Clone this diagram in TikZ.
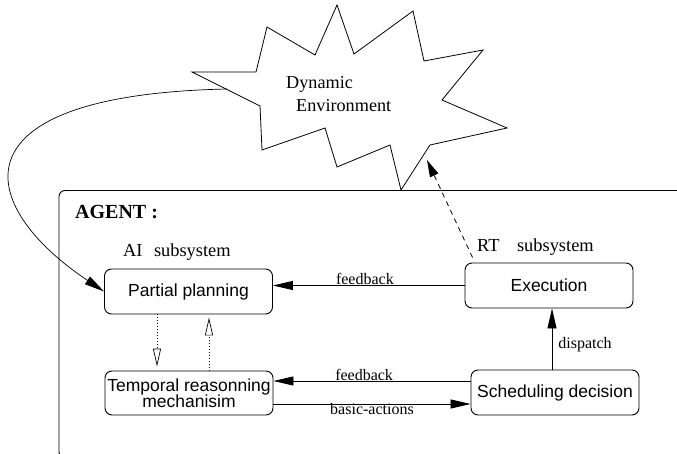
\documentclass[tikz,border=0pt]{standalone}
\usepackage{fontspec}
\setmainfont{Liberation Serif}
\newfontfamily\boitefont{Liberation Sans}
\usetikzlibrary{arrows.meta}
\setlength{\lineskiplimit}{-8pt}

\begin{document}
\begin{tikzpicture}[
    x=1pt, y=-1pt,
    bloc/.style={draw, rounded corners=7pt, line width=0.9pt, minimum width=168pt, minimum height=45pt,
                 inner sep=0pt, align=center,
                 font=\boitefont\fontsize{17.5}{16}\selectfont},
    titre/.style={anchor=base west, inner sep=0pt, font=\fontsize{18.4}{20}\selectfont},
    etiquette/.style={inner sep=0pt, font=\fontsize{16}{18}\selectfont},
    fleche/.style={-{Triangle[length=20pt, width=9pt]}, line width=0.8pt},
    tirets/.style={-{Triangle[length=17pt, width=9pt]}, line width=0.8pt, dash pattern=on 5pt off 4.5pt},
    pointilles/.style={-{Triangle[open, length=18pt, width=8pt]}, line width=0.7pt, dash pattern=on 0.8pt off 2.2pt},
    cadre/.style={line width=0.9pt, rounded corners=6pt}
]
    \useasboundingbox (0,0) rectangle (677,454);
    \clip (0,0) rectangle (677,454);

    % environment
    \draw[line width=0.8pt] (192,72) -- (256,72) -- (267,27) -- (315,55) -- (337,5) -- (354,54)
        -- (413,11) -- (424,61) -- (483,50) -- (442,100) -- (507,128) -- (430,145) -- (401,190)
        -- (390,145) -- (337,167) -- (325,128) -- (262,150) -- (260,106) -- cycle;
    \node[titre, font=\fontsize{18.2}{20}\selectfont] (envhaut) at (286,89) {Dynamic};
    \node[titre, font=\fontsize{18.2}{20}\selectfont] (envbas) at (296,112) {Environment};
    \coordinate (envout) at (227,89);
    \coordinate (envin) at (427,160);

    % agent
    \draw[cadre] (690,190.5) -- (59,190.5) -- (59,458) -- (90,458);
    \node[titre, font=\bfseries\fontsize{20}{22}\selectfont] (agent) at (75,219) {AGENT :};
    \node[titre] (ai) at (123,257) {AI\hspace{0.62em}subsystem};
    \node[titre] (rt) at (477,252) {RT\hspace{0.95em}subsystem};

    \node[bloc] (plan) at (188.5,291.5) {Partial planning};
    \node[bloc, minimum height=44pt] (temp) at (189,393) {Temporal reasonning\\mechanisim};
    \node[bloc] (exe) at (549,285.5) {Execution};
    \node[bloc] (sched) at (555,392.5) {Scheduling decision};

    \coordinate (fb) at ([yshift=11.5pt]sched.west);
    \coordinate (ba) at ([yshift=-11pt]temp.east);
    \coordinate (d1) at ([xshift=-31.5pt]plan.south);
    \coordinate (d2) at ([xshift=20pt]temp.north);

    \draw[fleche] (exe.west) -- (exe.west -| plan.east)
        node[etiquette, pos=0.52, anchor=base, yshift=1pt] {feedback};
    \draw[fleche] (fb) -- (fb -| temp.east)
        node[etiquette, pos=0.54, anchor=base, yshift=1pt] {feedback};
    \draw[fleche] (ba) -- (ba -| sched.west)
        node[etiquette, midway, anchor=base, yshift=-10pt] {basic-actions};
    \draw[fleche] ([xshift=-3pt]sched.north) -- ([xshift=3pt]exe.south)
        node[etiquette, pos=0.41, anchor=west, xshift=6pt] {dispatch};

    \draw[pointilles, shorten >=4pt] (d1) -- (d1 |- temp.north);
    \draw[pointilles, shorten >=3pt] (d2) -- (d2 |- plan.south);

    \draw[tirets] ([xshift=8pt, yshift=5pt]exe.north west) -- (envin);
    \draw[fleche, line width=0.7pt] (envout) .. controls (-50,95) and (-25,205) .. (plan.west);
\end{tikzpicture}
\end{document}
